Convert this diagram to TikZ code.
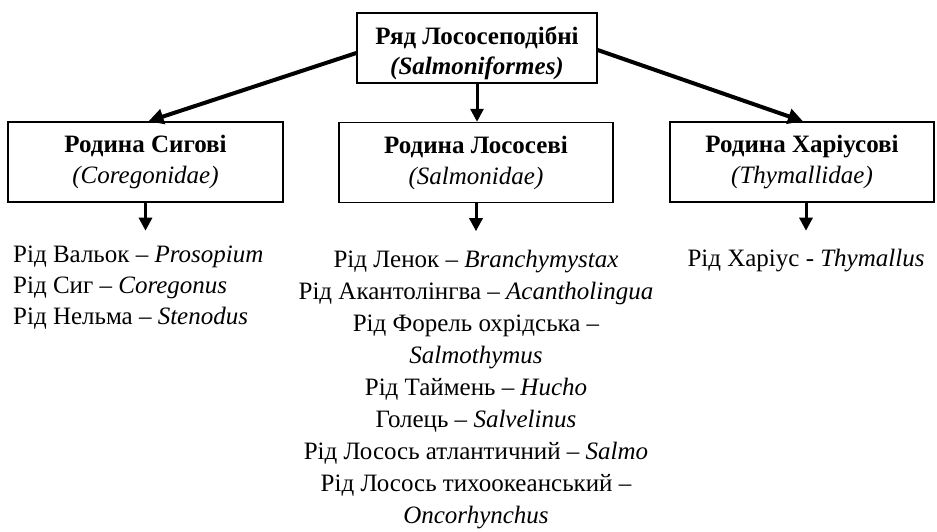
\documentclass[tikz,border=0pt]{standalone}
\usepackage{fontspec}
\setmainfont{Liberation Serif}
\usepackage{tikz}
\usetikzlibrary{arrows.meta, positioning, calc}

\tikzset{
  %% Family box
  fambox/.style={
    rectangle, draw=black, line width=1.4pt,
    minimum width=#1, minimum height=80pt,
    align=center, inner sep=2pt,
    font=\fontsize{25}{31}\selectfont
  },
  fambox/.default=274pt,
  %% Genus list
  genlist/.style={
    inner sep=0pt, font=\fontsize{25}{#1}\selectfont
  },
  genlist/.default=32,
  %% Arrows
  bigarr/.style={-{Triangle[length=15pt,width=15pt]},
                 line width=4pt},
  smallarr/.style={-{Triangle[length=13pt,width=13pt]},
                   line width=3pt},
}

\begin{document}
\begin{tikzpicture}[x=1pt, y=-1pt]

  \useasboundingbox (0,0) rectangle (937,531);

  %% Order
  \node[fambox=240pt, minimum height=70pt] (ryad) at (477,48) {};
  \node[genlist=30, align=center] (ryadText) at (477,53)
       {\textbf{Ряд Лососеподібні}\\\textbf{\textit{(Salmoniformes)}}};

  %% Families
  \node[fambox=275pt] (sygovi) at (145.5,162)
       {\textbf{Родина Сигові}\\\textit{(Coregonidae)}};
  \node[fambox=274pt] (lososevi) at (476,162.5)
       {\textbf{Родина Лососеві}\\\textit{(Salmonidae)}};
  \node[fambox=264pt] (kharius) at (802,162)
       {\textbf{Родина Харіусові}\\\textit{(Thymallidae)}};

  %% Genera
  \node[genlist=31, anchor=north west, align=left] (sygList) at (13,246)
       {Рід Вальок – \textit{Prosopium}\\
        Рід Сиг – \textit{Coregonus}\\
        Рід Нельма – \textit{Stenodus}};
  \node[genlist, anchor=north, align=center] (lososList) at (476,250)
       {Рід Ленок – \textit{Branchymystax}\\
        Рід Акантолінгва – \textit{Acantholingua}\\
        Рід Форель охрідська –\\
        \textit{Salmothymus}\\
        Рід Таймень – \textit{Hucho}\\
        Голець – \textit{Salvelinus}\\
        Рід Лосось атлантичний – \textit{Salmo}\\
        Рід Лосось тихоокеанський –\\
        \textit{Oncorhynchus}};
  \node[genlist, anchor=north, align=center] (khariusList) at (806,249)
       {Рід Харіус - \textit{Thymallus}};

  %% Order to families
  \draw[bigarr] ($(ryad.west)+(0,5)$) -- ($(sygovi.north)+(3,0)$);
  \draw[bigarr] ($(ryad.east)+(0,2)$) -- ($(kharius.north)+(1,0)$);
  \draw[smallarr] (ryad.south) -- (ryad.south |- lososevi.north);

  %% Families to genera
  \draw[smallarr] (sygovi.south) -- ++(0,28);
  \draw[smallarr] (lososevi.south) -- ++(0,28);
  \draw[smallarr] (kharius.south -| khariusList.north) -- ++(0,28);

\end{tikzpicture}
\end{document}
